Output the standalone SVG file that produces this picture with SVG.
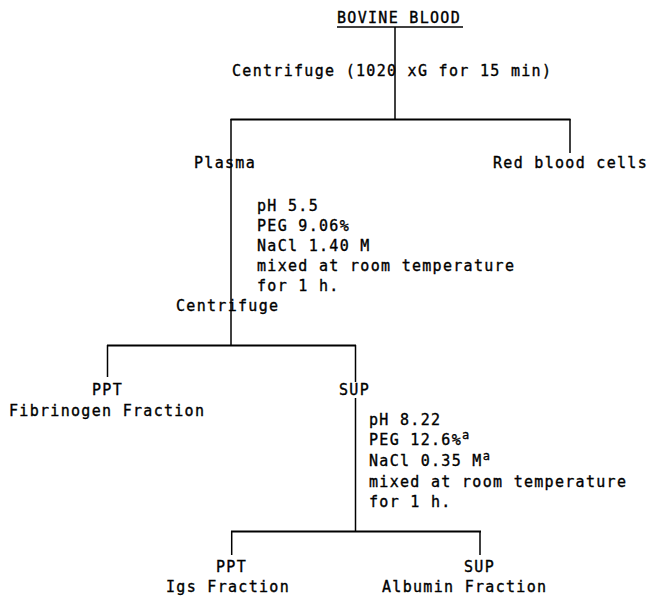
<svg xmlns="http://www.w3.org/2000/svg" width="648" height="606" viewBox="0 0 648 606">
<style>
  text { font-family: "DejaVu Sans Mono", "Liberation Mono", monospace; font-size: 15px; letter-spacing: 1.3px; fill: #000; stroke: #000; stroke-width: 0.35px; }
  .sup { font-size: 12px; letter-spacing: 0; }
  .h { stroke: #000; stroke-width: 2; fill: none; }
  .v { stroke: #000; stroke-width: 1.5; fill: none; }
</style>
<rect width="648" height="606" fill="#fff"/>
<g id="connectors">
  <line class="v" x1="337" y1="27" x2="463" y2="27"/>
  <line class="v" x1="395" y1="27" x2="395" y2="119"/>
  <line class="h" x1="230.5" y1="119.5" x2="570.5" y2="119.5"/>
  <line class="v" x1="231" y1="119" x2="231" y2="345.5"/>
  <line class="v" x1="570" y1="119" x2="570" y2="153"/>
  <line class="h" x1="107" y1="345.5" x2="356" y2="345.5"/>
  <line class="v" x1="107.5" y1="345" x2="107.5" y2="377"/>
  <line class="v" x1="355.5" y1="345" x2="355.5" y2="382"/>
  <line class="v" x1="355.5" y1="398" x2="355.5" y2="531.5"/>
  <line class="h" x1="231" y1="531.5" x2="481" y2="531.5"/>
  <line class="v" x1="231.7" y1="531" x2="231.7" y2="555"/>
  <line class="v" x1="480" y1="531" x2="480" y2="555"/>
</g>
<g id="bovine-blood"><text x="337" y="23">BOVINE BLOOD</text></g>
<g id="centrifuge-1"><text x="232" y="76" letter-spacing="1.75">Centrifuge (1020 xG for 15 min)</text></g>
<g id="plasma"><text x="194" y="168">Plasma</text></g>
<g id="red-blood-cells"><text x="493" y="168">Red blood cells</text></g>
<g id="conditions-1">
  <text x="257" y="211">pH 5.5</text>
  <text x="257" y="231">PEG 9.06%</text>
  <text x="257" y="251">NaCl 1.40 M</text>
  <text x="257" y="271">mixed at room temperature</text>
  <text x="257" y="291">for 1 h.</text>
</g>
<g id="centrifuge-2"><text x="176" y="311">Centrifuge</text></g>
<g id="fibrinogen-fraction">
  <text x="92" y="395">PPT</text>
  <text x="9" y="416">Fibrinogen Fraction</text>
</g>
<g id="sup-1"><text x="339" y="395">SUP</text></g>
<g id="conditions-2">
  <text x="369" y="425">pH 8.22</text>
  <text x="369" y="445">PEG 12.6%<tspan class="sup" dy="-6">a</tspan></text>
  <text x="369" y="466">NaCl 0.35 M<tspan class="sup" dy="-6">a</tspan></text>
  <text x="369" y="487">mixed at room temperature</text>
  <text x="369" y="507">for 1 h.</text>
</g>
<g id="igs-fraction">
  <text x="216" y="572">PPT</text>
  <text x="166" y="592">Igs Fraction</text>
</g>
<g id="albumin-fraction">
  <text x="464" y="572">SUP</text>
  <text x="382" y="592">Albumin Fraction</text>
</g>
</svg>
